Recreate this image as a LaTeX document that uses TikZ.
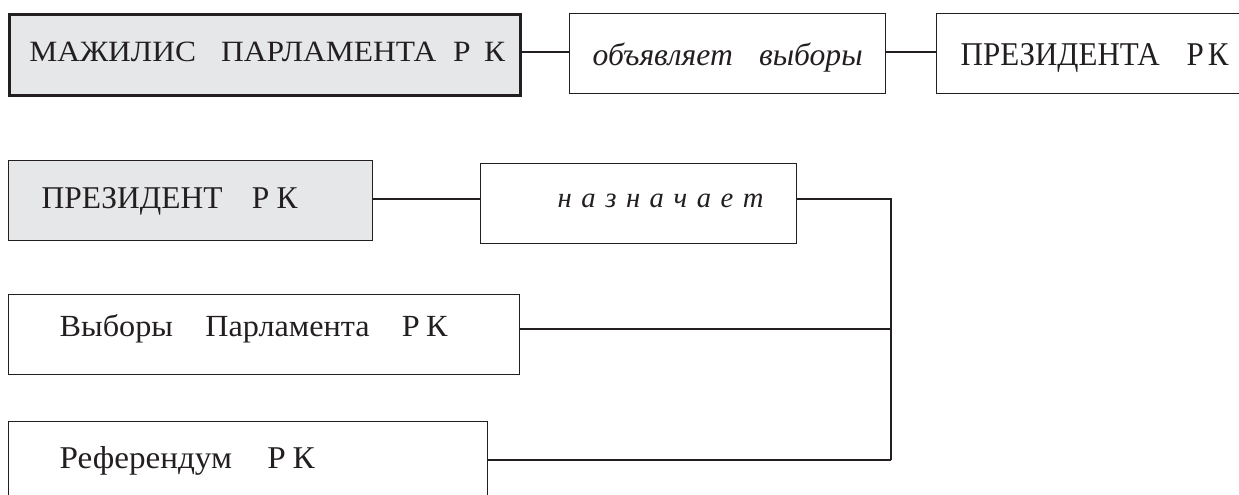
\documentclass[tikz,border=0pt]{standalone}
\usepackage{fontspec}
\setmainfont{Liberation Serif}
\definecolor{ink}{HTML}{231F20}
\definecolor{boxgray}{HTML}{E6E7E8}
\tikzset{
  box/.style={draw=ink, line width=1.3pt, rectangle, inner xsep=0pt, inner ysep=0pt,
    anchor=north west, align=left, text height=0pt, text depth=0pt, text=ink,
    font=\fontsize{30}{32}\selectfont},
  thickbox/.style={box, line width=2.6pt},
  link/.style={draw=ink, line width=1.3pt}
}
\begin{document}
\begin{tikzpicture}[x=1pt,y=-1pt]
\useasboundingbox (0,0) rectangle (1239,495);
% row 1
\node[thickbox, fill=boxgray, minimum width=511pt, minimum height=81pt, text width=511pt]
  (maj) at (8,13) {\hspace*{20pt}\raisebox{-6.5pt}{\resizebox{476pt}{19.5pt}{МАЖИЛИС\hspace{24pt}ПАРЛАМЕНТА\hspace{16pt}Р\hspace{13pt}К}}};
\node[box, minimum width=316pt, minimum height=80pt, text width=316pt]
  (obj) at (569,13) {\hspace*{23pt}\raisebox{-12pt}{\resizebox{270pt}{!}{\itshape объявляет\hspace{25pt}выборы}}};
\node[box, minimum width=320pt, minimum height=80pt, text width=320pt]
  (pra) at (936,13) {\hspace*{24pt}\raisebox{-12pt}{\resizebox{268pt}{22pt}{ПРЕЗИДЕНТА\hspace{26pt}Р\hspace{4pt}К}}};
% row 2
\node[box, fill=boxgray, minimum width=364pt, minimum height=80pt, text width=364pt]
  (pres) at (8,160) {\hspace*{33pt}\raisebox{-8pt}{\resizebox{256pt}{21pt}{ПРЕЗИДЕНТ\hspace{28pt}Р\hspace{7pt}К}}};
\node[box, minimum width=316pt, minimum height=80pt, text width=316pt]
  (naz) at (480,163) {\hspace*{77pt}\raisebox{-4pt}{\resizebox{206pt}{!}{\itshape н\hspace{10pt}а\hspace{10pt}з\hspace{10pt}н\hspace{10pt}а\hspace{10pt}ч\hspace{10pt}а\hspace{10pt}е\hspace{10pt}т}}};
% row 3
\node[box, minimum width=511pt, minimum height=80pt, text width=511pt]
  (vyb) at (8,294) {\hspace*{51pt}\raisebox{-2pt}{\resizebox{388pt}{22pt}{Выборы\hspace{30pt}Парламента\hspace{30pt}Р\hspace{6pt}К}}};
% row 4
\node[box, minimum width=479pt, minimum height=80pt, text width=479pt]
  (ref) at (8,421) {\hspace*{51pt}\raisebox{-7pt}{\resizebox{255pt}{22pt}{Референдум\hspace{32pt}Р\hspace{6pt}К}}};
% connectors
\coordinate (j1) at (891,199);
\coordinate (j2) at (891,329);
\coordinate (j3) at (891,460);
\draw[link] (maj.east |- 0,52) -- (obj.west |- 0,52);
\draw[link] (obj.east |- 0,52) -- (pra.west |- 0,52);
\draw[link] (pres.east |- j1) -- (naz.west |- j1);
\draw[link] (naz.east |- j1) -- (j1) -- (j3);
\draw[link] (vyb.east |- j2) -- (j2);
\draw[link] (ref.east |- j3) -- (j3);
\end{tikzpicture}
\end{document}
